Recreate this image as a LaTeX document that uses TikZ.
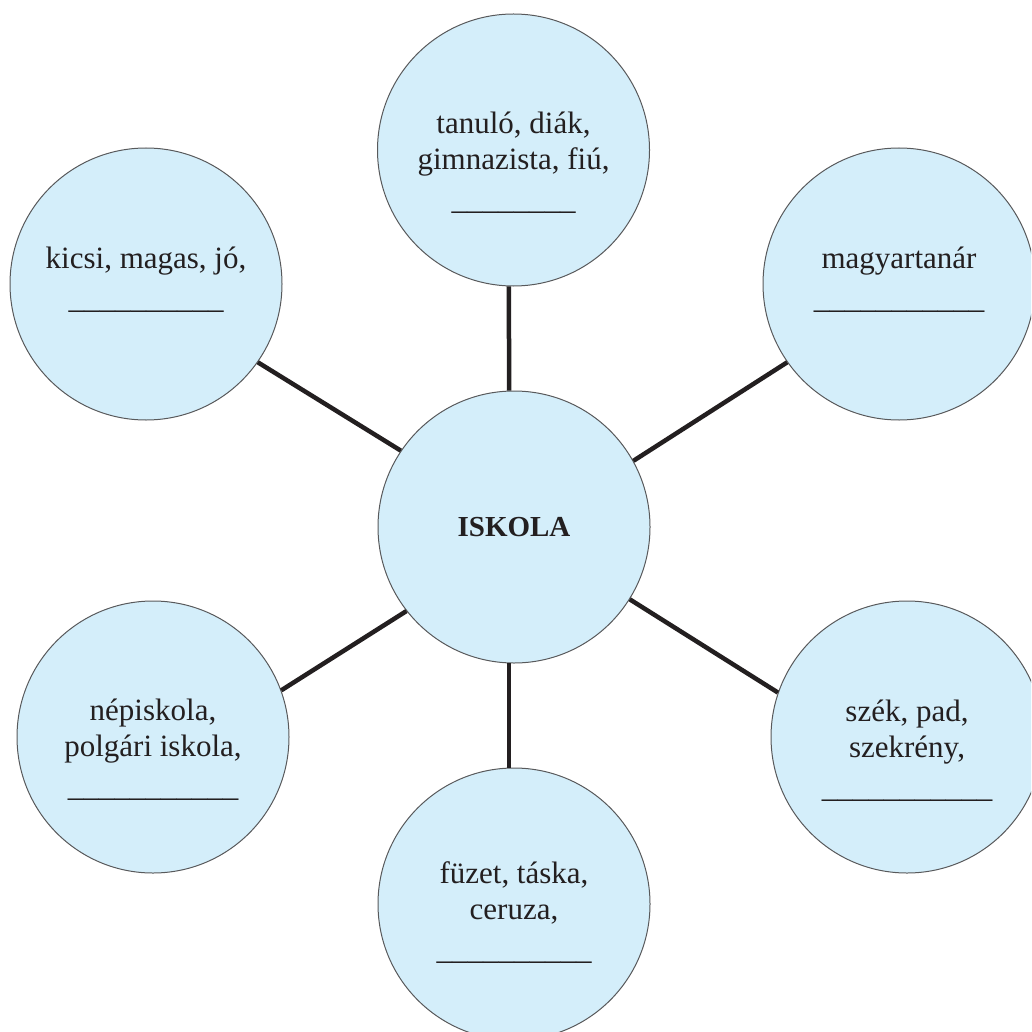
\documentclass[tikz,border=0pt]{standalone}
\usepackage{fontspec}
\setmainfont{Liberation Serif}
\definecolor{bubblefill}{HTML}{D4EEFA}
\definecolor{bubbleline}{HTML}{58595B}
\definecolor{inkdark}{HTML}{231F20}
\newcommand{\blanks}[1]{\foreach \k in {1,...,#1}{\_}}
\newcommand{\padtop}[1]{\rule{0pt}{#1}}
\newcommand{\padbot}[1]{\rule[-#1]{0pt}{#1}}

\begin{document}
\begin{tikzpicture}[x=1pt,y=-1pt,
  bubble/.style={circle, draw=bubbleline, line width=1pt, fill=bubblefill,
    minimum size=272pt, inner sep=0pt, align=center, text=inkdark,
    font=\fontsize{31}{36}\selectfont},
  spoke/.style={draw=inkdark, line width=4.5pt}]
\useasboundingbox (0,0) rectangle (1031,1032);
\clip (0,0) rectangle (1031,1032);
\node (iskola) at (514,527) [bubble, font=\fontsize{29}{35}\selectfont] {\textbf{ISKOLA}};
\node (tanulo) at (513.5,150) [bubble] {\padtop{46pt}tanuló, diák,\\gimnazista, fiú,\\[4pt]\blanks{8}};
\node (kicsi) at (146,284) [bubble] {kicsi, magas, jó,\\[4pt]\blanks{10}\padbot{12pt}};
\node (tanar) at (899,284) [bubble] {magyartanár\\[4pt]\blanks{11}\padbot{12pt}};
\node (nepiskola) at (153,737) [bubble] {\padtop{46pt}népiskola,\\polgári iskola,\\[4pt]\blanks{11}};
\node (szek) at (907,737) [bubble] {\padtop{48pt}szék, pad,\\szekrény,\\[4pt]\blanks{11}};
\node (fuzet) at (514,904) [bubble] {\padtop{38pt}füzet, táska,\\ceruza,\\[4pt]\blanks{10}};
\draw [spoke] (iskola.92) -- (tanulo.268);
\draw [spoke] (iskola.146) -- (kicsi.325);
\draw [spoke] (iskola.29) -- (tanar.215);
\draw [spoke] (iskola.218) -- (nepiskola.20);
\draw [spoke] (iskola.328) -- (szek.161);
\draw [spoke] (iskola.268) -- (fuzet.92);
\end{tikzpicture}
\end{document}
